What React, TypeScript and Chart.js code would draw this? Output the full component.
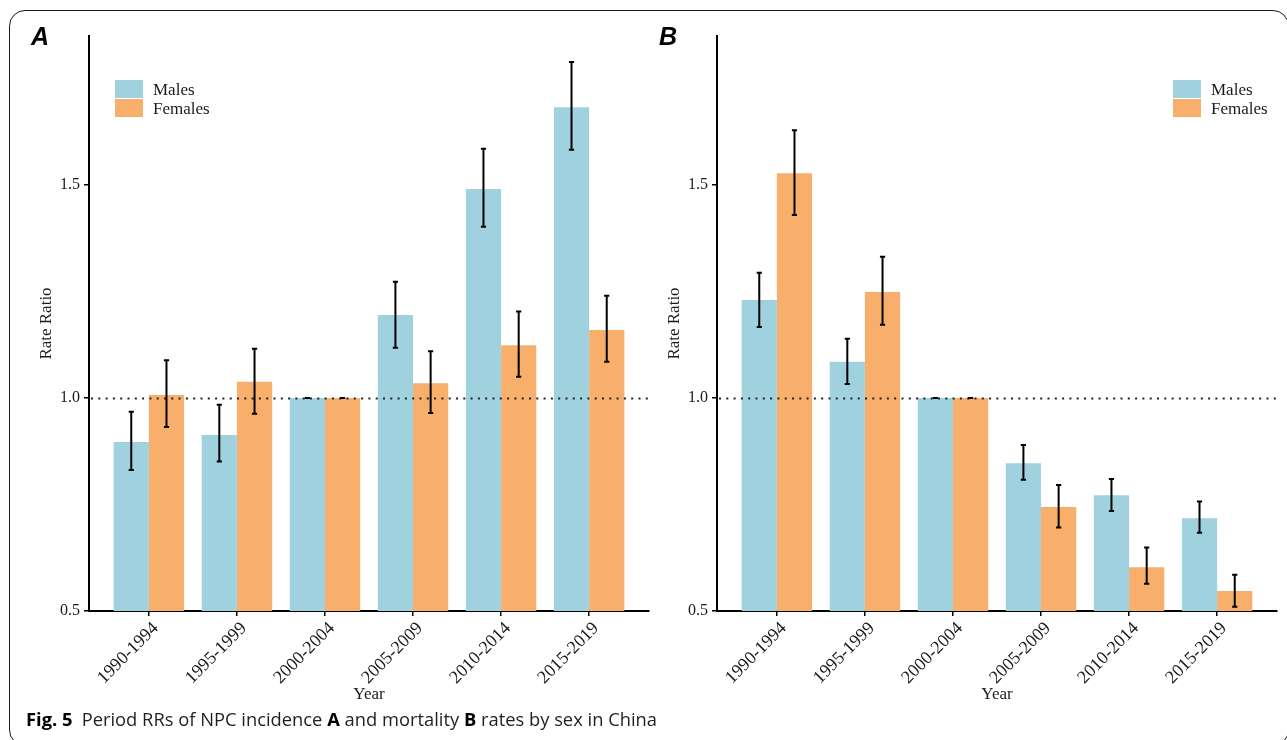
import React, { useEffect, useRef } from 'react';
import { Chart, registerables } from 'chart.js';

Chart.register(...registerables);

// ---- Data ----
const categories = ['1990-1994', '1995-1999', '2000-2004', '2005-2009', '2010-2014', '2015-2019'];
const categoryPositions = [1, 2, 3, 4, 5, 6];
const yTickValues = [0.5, 1.0, 1.5];
const referenceValue = 1.0;

// Panel A: incidence
const incMales = [0.897, 0.913, 1.0, 1.195, 1.491, 1.683];
const incMalesLow = [0.831, 0.851, 1.0, 1.118, 1.402, 1.583];
const incMalesHigh = [0.968, 0.984, 1.0, 1.273, 1.585, 1.789];
const incFemales = [1.007, 1.038, 1.0, 1.035, 1.124, 1.16];
const incFemalesLow = [0.932, 0.963, 1.0, 0.965, 1.05, 1.085];
const incFemalesHigh = [1.089, 1.116, 1.0, 1.11, 1.203, 1.24];

// Panel B: mortality
const morMales = [1.23, 1.085, 1.0, 0.847, 0.772, 0.718];
const morMalesLow = [1.167, 1.033, 1.0, 0.808, 0.735, 0.684];
const morMalesHigh = [1.294, 1.139, 1.0, 0.89, 0.81, 0.757];
const morFemales = [1.528, 1.249, 1.0, 0.744, 0.603, 0.547];
const morFemalesLow = [1.43, 1.172, 1.0, 0.696, 0.564, 0.51];
const morFemalesHigh = [1.629, 1.332, 1.0, 0.796, 0.649, 0.585];

const MALE_COLOR = '#9FD1DF';
const FEMALE_COLOR = '#F8AF6C';
const SERIF = "'Liberation Serif', 'Times New Roman', serif";

const errorBarPlugin = {
  id: 'errorBars',
  afterDatasetsDraw(chart: any) {
    const ctx = chart.ctx;
    const yScale = chart.scales.y;
    ctx.save();
    ctx.strokeStyle = '#000';
    ctx.lineWidth = 2;
    chart.data.datasets.forEach((ds: any, di: number) => {
      const meta = chart.getDatasetMeta(di);
      meta.data.forEach((el: any, i: number) => {
        const x = el.x;
        const yl = yScale.getPixelForValue(ds.errLow[i]);
        const yh = yScale.getPixelForValue(ds.errHigh[i]);
        ctx.beginPath();
        ctx.moveTo(x, yl);
        ctx.lineTo(x, yh);
        ctx.moveTo(x - 2.6, yl);
        ctx.lineTo(x + 2.6, yl);
        ctx.moveTo(x - 2.6, yh);
        ctx.lineTo(x + 2.6, yh);
        ctx.stroke();
      });
    });
    ctx.restore();
  },
};

const refLinePlugin = {
  id: 'refLine',
  afterDatasetsDraw(chart: any) {
    const ctx = chart.ctx;
    const { left, right } = chart.chartArea;
    const y = Math.round(chart.scales.y.getPixelForValue(referenceValue)) + 0.5;
    ctx.save();
    ctx.strokeStyle = '#222';
    ctx.lineWidth = 2;
    ctx.setLineDash([2, 5.3]);
    ctx.beginPath();
    ctx.moveTo(left + 2, y);
    ctx.lineTo(right, y);
    ctx.stroke();
    ctx.restore();
  },
};

const keyLegendPlugin = {
  id: 'keyLegend',
  afterDraw(chart: any, _args: any, opts: any) {
    const ctx = chart.ctx;
    ctx.save();
    chart.data.datasets.forEach((ds: any, i: number) => {
      const top = opts.top + i * 19;
      ctx.fillStyle = ds.backgroundColor;
      ctx.fillRect(opts.x, top, 28, 18);
      ctx.fillStyle = '#1a1a1a';
      ctx.font = `17px ${SERIF}`;
      ctx.textBaseline = 'alphabetic';
      ctx.textAlign = 'left';
      ctx.fillText(ds.label, opts.x + 38, top + 14.5);
    });
    ctx.restore();
  },
};

type PanelProps = {
  left: number;
  width: number;
  padRight: number;
  legendX: number;
  males: number[];
  malesLow: number[];
  malesHigh: number[];
  females: number[];
  femalesLow: number[];
  femalesHigh: number[];
};

const CANVAS_H = 709;

function Panel(p: PanelProps) {
  const ref = useRef<HTMLCanvasElement | null>(null);
  useEffect(() => {
    if (!ref.current) return;
    const chart = new Chart(ref.current, {
      type: 'bar',
      data: {
        datasets: [
          {
            label: 'Males',
            data: categoryPositions.map((x, i) => ({ x, y: p.males[i] })),
            backgroundColor: MALE_COLOR,
            errLow: p.malesLow,
            errHigh: p.malesHigh,
          } as any,
          {
            label: 'Females',
            data: categoryPositions.map((x, i) => ({ x, y: p.females[i] })),
            backgroundColor: FEMALE_COLOR,
            errLow: p.femalesLow,
            errHigh: p.femalesHigh,
          } as any,
        ],
      },
      options: {
        animation: false,
        responsive: false,
        maintainAspectRatio: false,
        categoryPercentage: 0.8,
        barPercentage: 1.0,
        layout: { padding: { left: 32, right: p.padRight, top: 36, bottom: 0 } },
        plugins: {
          legend: { display: false },
          tooltip: { enabled: false },
          keyLegend: { x: p.legendX, top: 80 },
        } as any,
        scales: {
          x: {
            type: 'linear',
            offset: false,
            min: 0.32,
            max: 6.68,
            afterBuildTicks: (s: any) => {
              s.ticks = categoryPositions.map((v) => ({ value: v }));
            },
            afterFit: (s: any) => {
              s.height = CANVAS_H - 611;
            },
            ticks: {
              autoSkip: false,
              minRotation: 45,
              maxRotation: 45,
              padding: 2,
              labelOffset: 7,
              color: '#1a1a1a',
              font: { family: SERIF, size: 18 },
              callback: (v: any) => categories[Math.round(Number(v)) - 1],
            },
            grid: { offset: false, drawOnChartArea: false, drawTicks: true, tickLength: 5, color: '#000', lineWidth: 1.5 },
            border: { display: true, color: '#000', width: 2 },
            title: {
              display: true,
              text: 'Year',
              color: '#1a1a1a',
              font: { family: SERIF, size: 17 },
              padding: { top: 4, bottom: 4 },
            },
          },
          y: {
            type: 'linear',
            min: 0.5,
            max: 1.85,
            afterBuildTicks: (s: any) => {
              s.ticks = yTickValues.map((v) => ({ value: v }));
            },
            afterFit: (s: any) => {
              s.width = 57;
            },
            ticks: {
              padding: 4,
              color: '#1a1a1a',
              font: { family: SERIF, size: 16 },
              callback: (v: any) => Number(v).toFixed(1),
            },
            grid: { drawOnChartArea: false, drawTicks: true, tickLength: 5, color: '#000', lineWidth: 1.5 },
            border: { display: true, color: '#000', width: 2 },
            title: {
              display: true,
              text: 'Rate Ratio',
              color: '#1a1a1a',
              font: { family: SERIF, size: 17 },
              padding: { top: 4, bottom: 4 },
            },
          },
        },
      } as any,
      plugins: [refLinePlugin, errorBarPlugin, keyLegendPlugin],
    });
    return () => chart.destroy();
  }, []);
  return (
    <canvas
      ref={ref}
      width={p.width}
      height={CANVAS_H}
      style={{ position: 'absolute', left: p.left, top: 0, width: p.width, height: CANVAS_H }}
    />
  );
}

function Caption() {
  const ref = useRef<HTMLSpanElement | null>(null);
  useEffect(() => {
    const el = ref.current;
    if (!el) return;
    const w = el.getBoundingClientRect().width;
    if (w > 0) el.style.transform = `scaleX(${631 / w})`;
  }, []);
  const reg = { color: '#231F20' };
  return (
    <span
      ref={ref}
      style={{
        position: 'absolute',
        left: 26,
        top: 710,
        display: 'inline-block',
        whiteSpace: 'nowrap',
        transformOrigin: 'left center',
        font: "18px 'Open Sans', 'Noto Sans', sans-serif",
        lineHeight: '18px',
      }}
    >
      <b style={{ color: '#000', marginRight: 9 }}>Fig. 5</b>
      <span style={reg}>Period RRs of NPC incidence </span>
      <b style={{ color: '#000' }}>A</b>
      <span style={reg}> and mortality </span>
      <b style={{ color: '#000' }}>B</b>
      <span style={reg}> rates by sex in China</span>
    </span>
  );
}

export default function App() {
  const labelStyle: React.CSSProperties = {
    position: 'absolute',
    top: 24,
    font: "italic bold 25px 'Liberation Sans', Arial, sans-serif",
    lineHeight: '25px',
    color: '#000',
  };
  return (
    <div
      style={{
        position: 'absolute',
        left: 0,
        top: 0,
        width: 1287,
        height: 740,
        overflow: 'hidden',
        background: '#fff',
      }}
    >
      <div
        style={{
          position: 'absolute',
          left: 9,
          top: 10,
          width: 1280,
          height: 736,
          border: '1.5px solid #1a1a1a',
          borderRadius: 16,
          boxSizing: 'border-box',
        }}
      />
      <Panel
        left={0}
        width={660}
        padRight={11}
        legendX={115}
        males={incMales}
        malesLow={incMalesLow}
        malesHigh={incMalesHigh}
        females={incFemales}
        femalesLow={incFemalesLow}
        femalesHigh={incFemalesHigh}
      />
      <Panel
        left={628}
        width={659}
        padRight={10}
        legendX={545}
        males={morMales}
        malesLow={morMalesLow}
        malesHigh={morMalesHigh}
        females={morFemales}
        femalesLow={morFemalesLow}
        femalesHigh={morFemalesHigh}
      />
      <div style={{ ...labelStyle, left: 31 }}>A</div>
      <div style={{ ...labelStyle, left: 659 }}>B</div>
      <Caption />
    </div>
  );
}
